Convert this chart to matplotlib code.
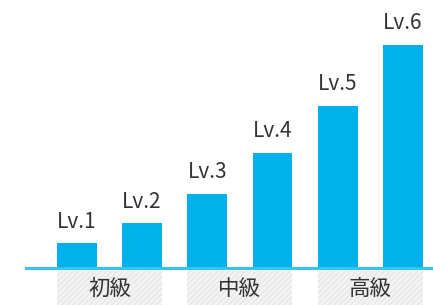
import matplotlib.pyplot as plt
import numpy as np
from matplotlib.patches import Rectangle

plt.rcParams['font.family'] = ['Noto Sans CJK JP', 'DejaVu Sans']
plt.rcParams['hatch.linewidth'] = 0.7

# Data
levels = ['Lv.1', 'Lv.2', 'Lv.3', 'Lv.4', 'Lv.5', 'Lv.6']
values = [11, 20, 33.4, 51.6, 72.6, 100]
groups = ['初級', '中級', '高級']
group_members = [(0, 1), (2, 3), (4, 5)]

bar_color = '#00b1ec'
line_color = '#35c3f1'
text_color = '#333333'

fig = plt.figure(figsize=(4.33, 3.05), dpi=100)
ax = fig.add_axes([26 / 433, 37 / 305, 407 / 433, 268 / 305])

x = np.arange(len(levels))
bar_w = 0.61
bars = ax.bar(x, values, width=bar_w, color=bar_color, zorder=2)

for xi, v, lab in zip(x, values, levels):
    ax.annotate(lab, (xi, v), xytext=(0, 11.3), textcoords='offset points',
                ha='center', va='baseline', fontsize=15, color=text_color)

ax.set_xlim(-0.78, 5.46)
ax.set_ylim(0, 120.2)

# baseline
ax.axhline(0, color=line_color, lw=2.2, zorder=3, clip_on=False)

# group label boxes below the axis
trans = ax.get_xaxis_transform()
for (a, b), name in zip(group_members, groups):
    left = x[a] - bar_w / 2
    right = x[b] + bar_w / 2
    rect = Rectangle((left, -0.14), right - left, 0.128, transform=trans,
                     facecolor='#f3f3f3', edgecolor='#e3e3e3', hatch='//////',
                     linewidth=0, clip_on=False, zorder=1)
    ax.add_patch(rect)
    ax.text((left + right) / 2, -0.078, name, transform=trans,
            ha='center', va='center', fontsize=15.5, color=text_color)

for s in ax.spines.values():
    s.set_visible(False)
ax.set_xticks([])
ax.set_yticks([])

fig.savefig('out.png', dpi=100)
